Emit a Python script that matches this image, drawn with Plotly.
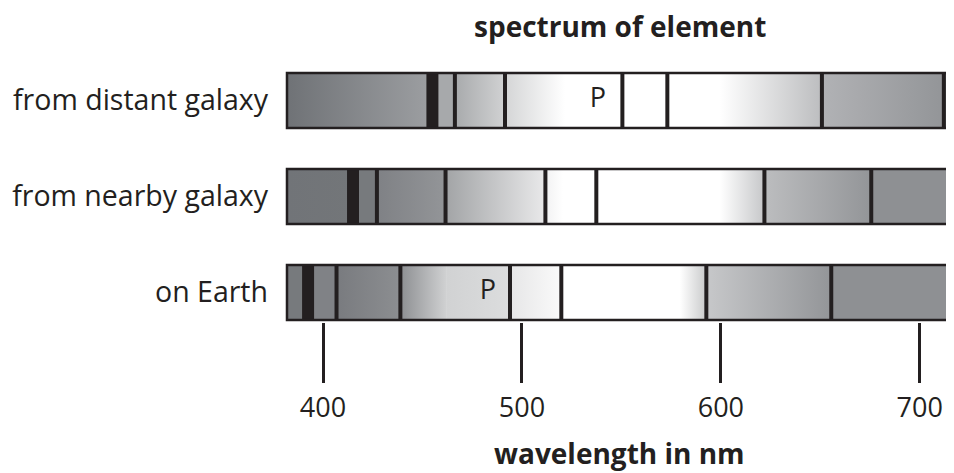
import plotly.graph_objects as go

# ---------------- data ----------------
ROW_LABELS = ["on Earth", "from nearby galaxy", "from distant galaxy"]  # bottom -> top
TICK_NM = [400, 500, 600, 700]
NM_MIN, NM_MAX = 381.9, 717.2

# gradient stops (wavelength in nm, grey level 0-255); repeated nm = hard edge
earth_stop_nm = [381.9, 392.5, 392.5, 406.8, 406.8, 438.9, 438.9, 462.3, 494.0, 494.0, 519.8, 519.8, 579.4, 592.7, 592.7, 655.5, 655.5, 717.2]
earth_stop_grey = [119, 119, 128, 128, 121, 140, 141, 209, 220, 230, 250, 255, 255, 201, 199, 147, 142, 142]
earth_lines_nm = [406.8, 438.9, 494.0, 519.8, 592.7, 655.5]
earth_thick_nm = [392.5]

nearby_stop_nm = [381.9, 415.1, 415.1, 427.1, 427.1, 461.6, 461.6, 511.8, 511.8, 520.6, 599.5, 621.9, 621.9, 675.6, 675.6, 717.2]
nearby_stop_grey = [113, 115, 119, 119, 127, 147, 162, 233, 242, 255, 255, 198, 188, 147, 142, 142]
nearby_lines_nm = [427.1, 461.6, 511.8, 537.4, 621.9, 675.6]
nearby_thick_nm = [415.1]

distant_stop_nm = [381.9, 455.0, 455.0, 466.3, 466.3, 491.5, 491.5, 521.6, 599.5, 650.8, 650.8, 712.1, 712.1, 717.2]
distant_stop_grey = [111, 157, 167, 167, 168, 209, 212, 255, 255, 188, 177, 147, 147, 147]
distant_lines_nm = [466.3, 491.5, 550.5, 573.1, 650.8, 712.1]
distant_thick_nm = [455.0]

P_LABEL_NM = [482.9, 538.2]      # "P" marker positions
P_LABEL_ROW = [0, 2]

# --------------- styling ---------------
FONT = "Open Sans"
INK = "#231f20"
BAR_H = 1.0
ROW_STEP = 1.745

def grey(g):
    d = 255 - g
    return f"rgb({g},{min(255, g + round(2 * d / 108))},{min(255, g + round(5 * d / 108))})"

spectra = [
    (earth_stop_nm, earth_stop_grey, earth_lines_nm, earth_thick_nm),
    (nearby_stop_nm, nearby_stop_grey, nearby_lines_nm, nearby_thick_nm),
    (distant_stop_nm, distant_stop_grey, distant_lines_nm, distant_thick_nm),
]

fig = go.Figure()

for r, (snm, sg, lines, thick) in enumerate(spectra):
    y0 = r * ROW_STEP
    y1 = y0 + BAR_H
    for k in range(len(snm) - 1):
        a, b = snm[k], snm[k + 1]
        if b <= a:
            continue
        kw = dict(x=[a, b, b, a, a], y=[y0, y0, y1, y1, y0], mode="lines",
                  line=dict(width=0), fill="toself", hoverinfo="skip", showlegend=False)
        if sg[k] == sg[k + 1]:
            kw["fillcolor"] = grey(sg[k])
        else:
            kw["fillgradient"] = dict(type="horizontal",
                                      colorscale=[[0, grey(sg[k])], [1, grey(sg[k + 1])]])
        fig.add_trace(go.Scatter(**kw))
    # thin lines
    xs, ys = [], []
    for l in lines:
        xs += [l, l, None]
        ys += [y0, y1, None]
    fig.add_trace(go.Scatter(x=xs, y=ys, mode="lines", line=dict(color=INK, width=4),
                             hoverinfo="skip", showlegend=False))
    xs, ys = [], []
    for l in thick:
        xs += [l, l, None]
        ys += [y0, y1, None]
    fig.add_trace(go.Scatter(x=xs, y=ys, mode="lines", line=dict(color=INK, width=12),
                             hoverinfo="skip", showlegend=False))
    # outline (top, left, bottom)
    fig.add_trace(go.Scatter(x=[NM_MAX, NM_MIN, NM_MIN, NM_MAX], y=[y1, y1, y0, y0],
                             mode="lines", line=dict(color=INK, width=2.5),
                             hoverinfo="skip", showlegend=False))

fig.add_trace(go.Scatter(
    x=P_LABEL_NM, y=[r * ROW_STEP + BAR_H / 2 for r in P_LABEL_ROW],
    mode="text", text=["P"] * len(P_LABEL_NM),
    textfont=dict(family=FONT, size=27, color=INK),
    hoverinfo="skip", showlegend=False))

# the page body adds an 8px margin; the figure is sized to fill the rest
PLOT_H = 251
px_per_unit = 55.0
pad_y = 2 / px_per_unit
fig.update_layout(
    width=946, height=465,
    margin=dict(l=277, r=0, t=63, b=151),
    paper_bgcolor="white", plot_bgcolor="white",
    font=dict(family=FONT, color=INK),
    xaxis=dict(range=[NM_MIN - 1.0, NM_MAX], tickvals=TICK_NM, ticktext=[str(t) for t in TICK_NM],
               ticks="outside", ticklen=60, tickwidth=2.5, tickcolor=INK,
               showgrid=False, zeroline=False, showline=False,
               tickfont=dict(family=FONT, size=27, color=INK), ticklabelstandoff=2),
    yaxis=dict(range=[-pad_y, 2 * ROW_STEP + BAR_H + pad_y],
               tickvals=[r * ROW_STEP + BAR_H / 2 for r in range(3)], ticktext=ROW_LABELS,
               ticks="", showgrid=False, zeroline=False, showline=False,
               tickfont=dict(family=FONT, size=28.5, color=INK), ticklabelstandoff=16),
    annotations=[
        dict(text="<b>spectrum of element</b>", xref="paper", yref="paper", x=0.5, y=1 + 45 / PLOT_H,
             xanchor="center", yanchor="middle", showarrow=False,
             font=dict(family=FONT, size=28, color=INK)),
        dict(text="<b>wavelength in nm</b>", xref="paper", yref="paper", x=0.5, y=-131 / PLOT_H,
             xanchor="center", yanchor="middle", showarrow=False,
             font=dict(family=FONT, size=28, color=INK)),
    ],
)

fig.write_html("out.html")
